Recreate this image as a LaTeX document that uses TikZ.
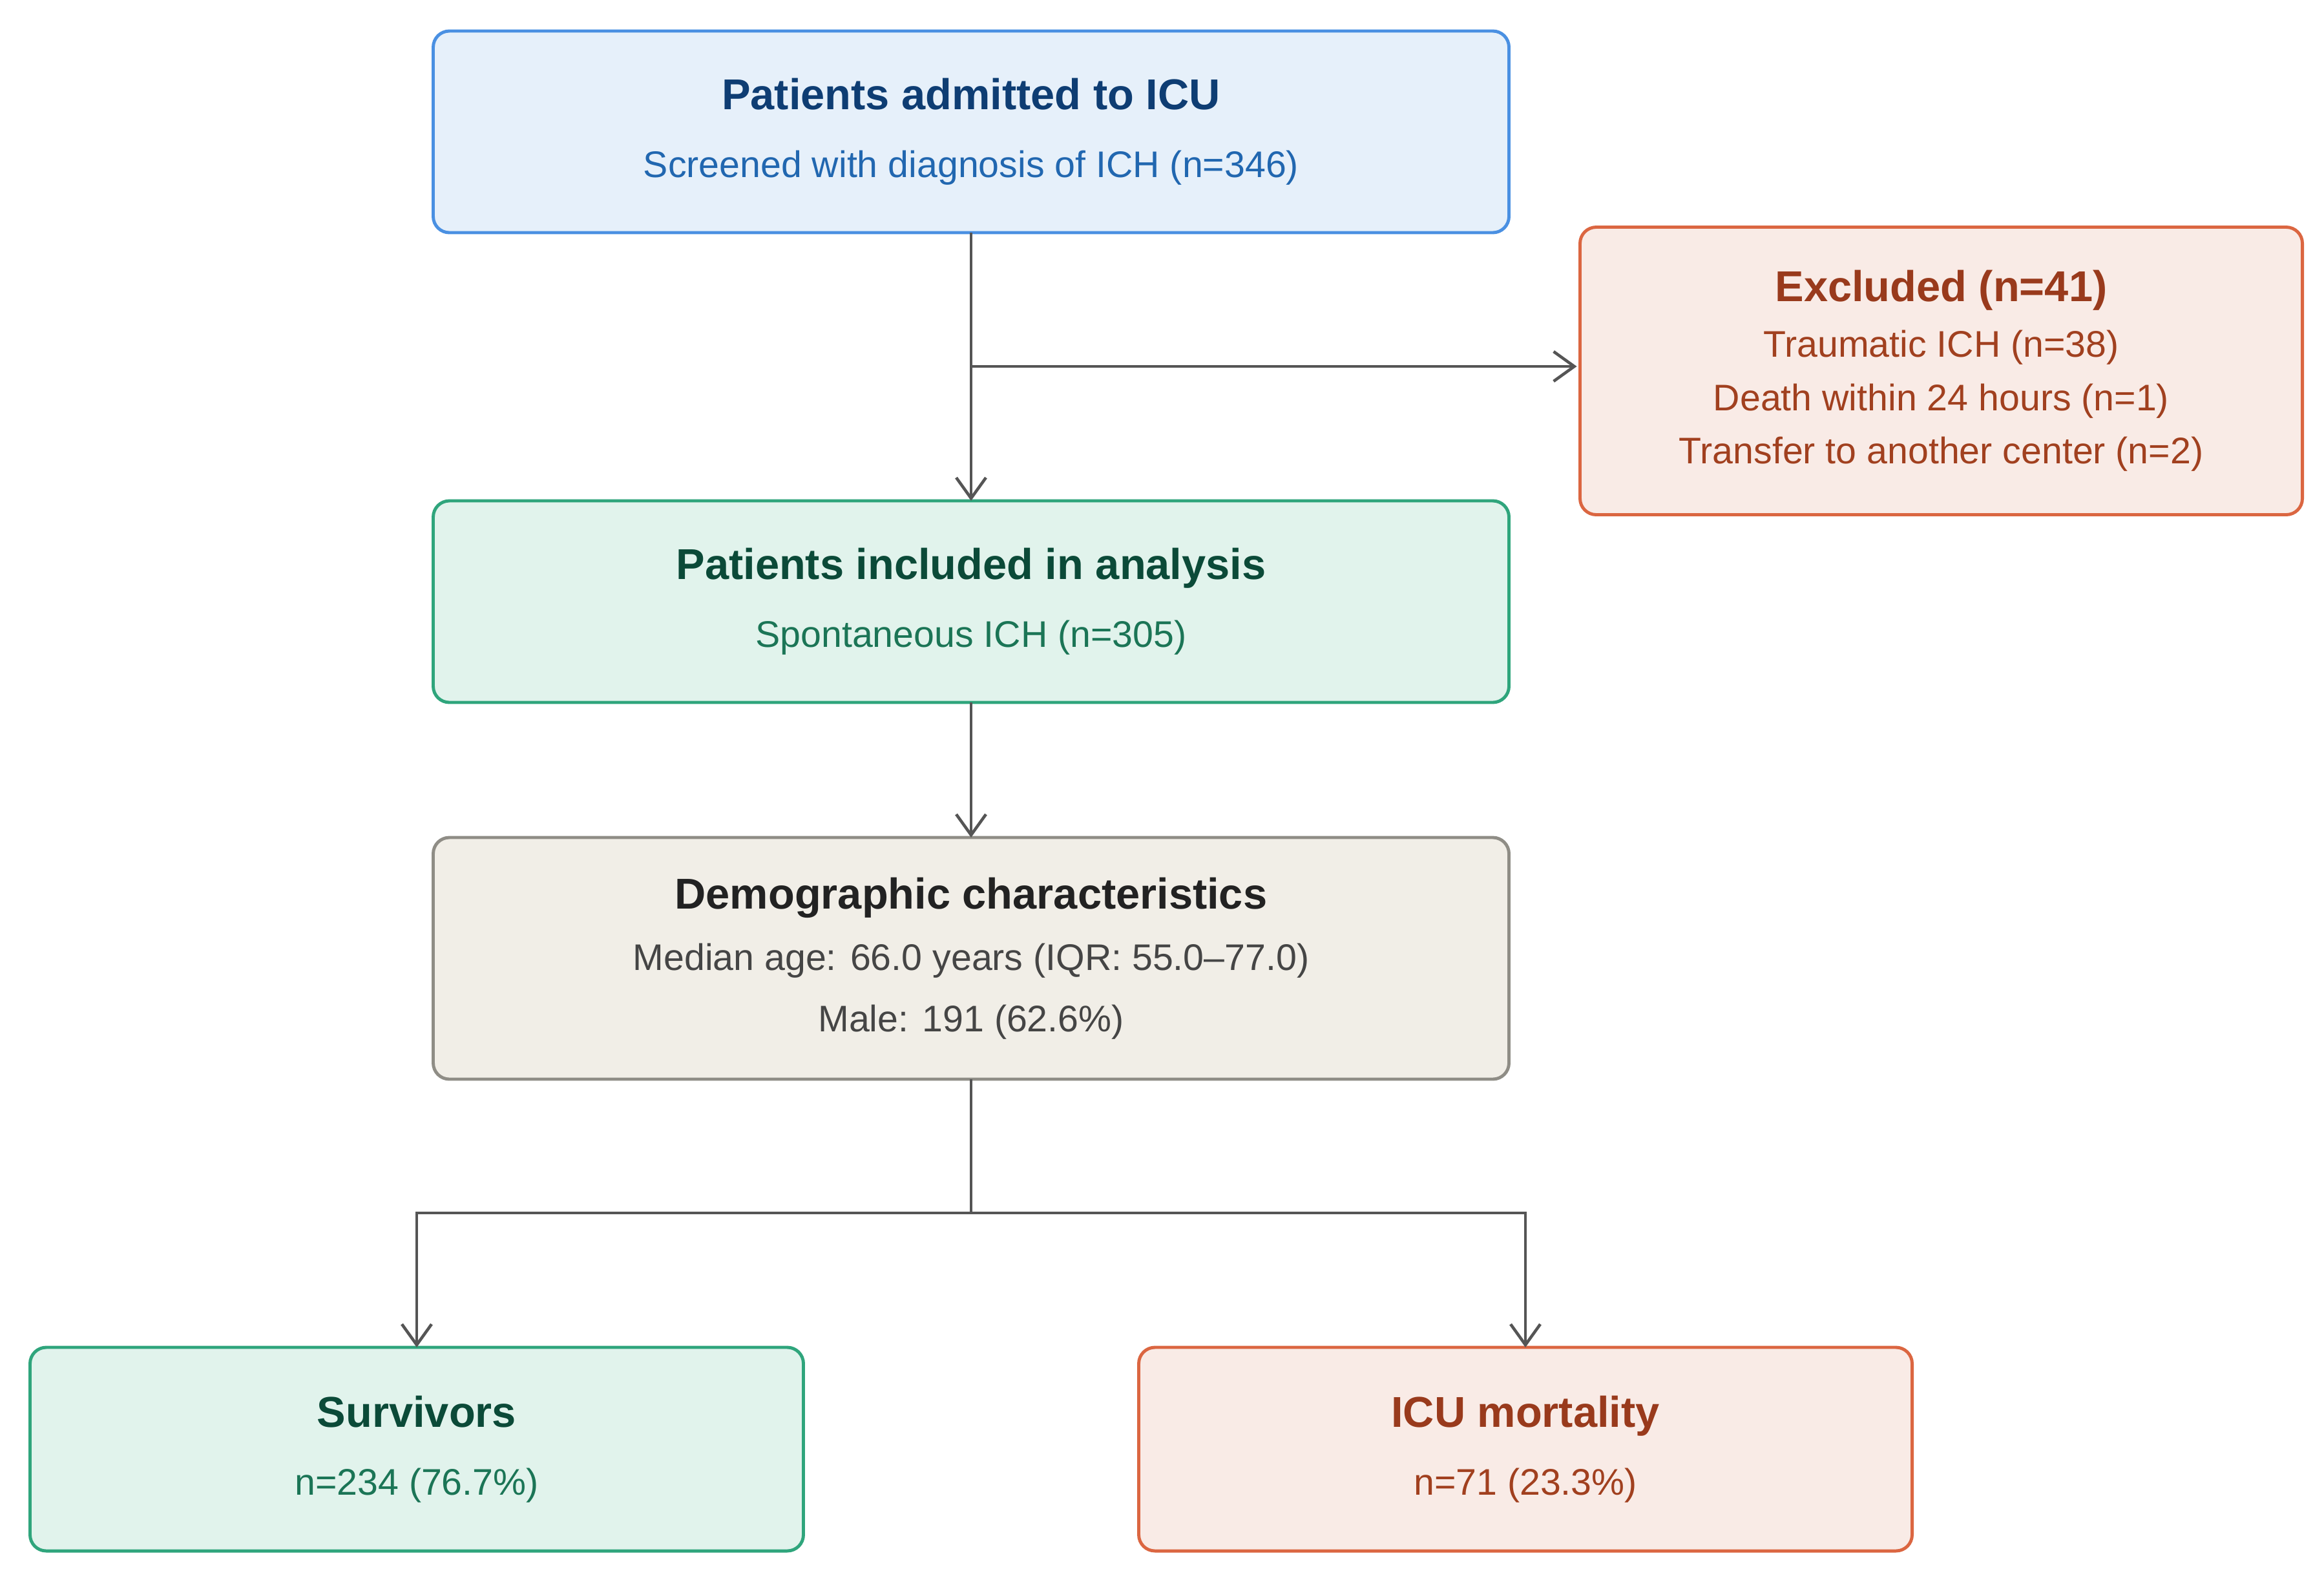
\documentclass[tikz,border=0pt]{standalone}
\usepackage{fontspec}
\setmainfont{Liberation Sans}
\usepackage{xcolor}
\usepackage{tikz}
\usetikzlibrary{arrows.meta, positioning, calc}

\definecolor{blueline}{HTML}{4A90E2}
\definecolor{bluefill}{HTML}{E6F0FA}
\definecolor{bluehead}{HTML}{0E3D73}
\definecolor{bluetext}{HTML}{2167B0}
\definecolor{greenline}{HTML}{2FA57C}
\definecolor{greenfill}{HTML}{E1F3EC}
\definecolor{greenhead}{HTML}{0B4A38}
\definecolor{greentext}{HTML}{1B7556}
\definecolor{redline}{HTML}{DB6641}
\definecolor{redfill}{HTML}{F9EBE6}
\definecolor{redhead}{HTML}{993A1C}
\definecolor{redtext}{HTML}{A1401F}
\definecolor{greyline}{HTML}{8F8D86}
\definecolor{greyfill}{HTML}{F1EEE7}
\definecolor{greyhead}{HTML}{222222}
\definecolor{greytext}{HTML}{454545}
\definecolor{conn}{HTML}{555555}

\newcommand{\boxhead}[1]{{\fontsize{19}{24}\selectfont\bfseries #1}}

\begin{document}
\begin{tikzpicture}[
  font=\fontsize{16.3}{24}\selectfont,
  box/.style={draw, line width=1.4pt, rounded corners=0.25cm, align=center,
    minimum width=16.65cm, minimum height=3.12cm, inner sep=0pt, outer sep=0pt},
  bluebox/.style={box, draw=blueline, fill=bluefill, text=bluetext},
  greenbox/.style={box, draw=greenline, fill=greenfill, text=greentext},
  redbox/.style={box, draw=redline, fill=redfill, text=redtext},
  greybox/.style={box, draw=greyline, fill=greyfill, text=greytext},
  arrow/.style={-{Straight Barb[length=3.2mm, width=4.6mm, line width=1.3pt]}, line width=1.3pt, draw=conn},
  line/.style={line width=1.3pt, draw=conn},
  node distance=4.15cm and 1.1cm
]
\useasboundingbox (0,0) rectangle (35.97,-24.44);

% Main flow
\node[bluebox] (admit) at (15.03,-2.04)
  {\textcolor{bluehead}{\boxhead{Patients admitted to ICU}}\\[6pt]
   Screened with diagnosis of ICH (n=346)};
\node[greenbox, below=of admit] (incl)
  {\textcolor{greenhead}{\boxhead{Patients included in analysis}}\\[6pt]
   Spontaneous ICH (n=305)};
\node[greybox, below=2.09cm of incl, minimum height=3.74cm] (demo)
  {\textcolor{greyhead}{\boxhead{Demographic characteristics}}\\[3pt]
   Median age: 66.0 years (IQR: 55.0--77.0)\\[3pt]
   Male: 191 (62.6\%)};

% Exclusions
\node[redbox, right=of admit, yshift=-3.7cm, minimum width=11.18cm, minimum height=4.45cm] (excl)
  {\textcolor{redhead}{\boxhead{Excluded (n=41)}}\\[0.5pt]
   Traumatic ICH (n=38)\\[-0.5pt]
   Death within 24 hours (n=1)\\[-0.5pt]
   Transfer to another center (n=2)};
\coordinate (exin) at ([xshift=-0.05cm, yshift=0.07cm]excl.west);

% Outcomes
\node[greenbox, below=of demo, xshift=-8.58cm, minimum width=11.97cm, minimum height=3.15cm] (surv)
  {\textcolor{greenhead}{\boxhead{Survivors}}\\[6pt]
   n=234 (76.7\%)};
\node[redbox, below=of demo, xshift=8.58cm, minimum width=11.97cm, minimum height=3.15cm] (death)
  {\textcolor{redhead}{\boxhead{ICU mortality}}\\[6pt]
   n=71 (23.3\%)};

\draw[arrow] (admit) -- (incl);
\draw[arrow] (admit.south |- exin) -- (exin);
\draw[arrow] (incl) -- (demo);

\draw[line] (demo.south) -- ++(0,-2.07) coordinate (fork);
\draw[arrow] (fork) -| (surv.north);
\draw[arrow] (fork) -| (death.north);

\end{tikzpicture}
\end{document}
